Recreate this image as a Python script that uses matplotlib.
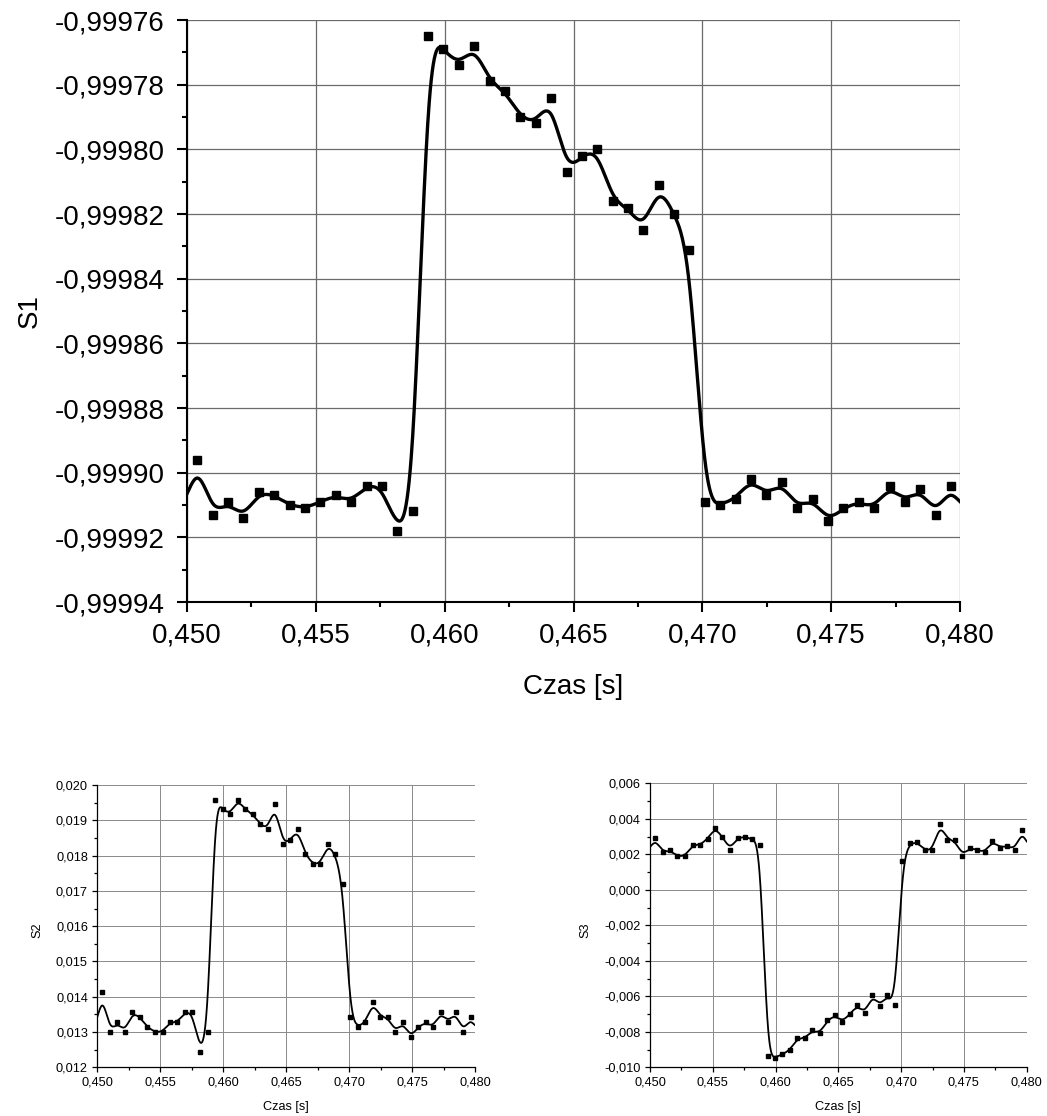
import numpy as np
import matplotlib
matplotlib.use("Agg")
import matplotlib.pyplot as plt
from matplotlib.ticker import MultipleLocator, FuncFormatter

plt.rcParams['font.family'] = ['Liberation Sans', 'DejaVu Sans']

# ---------------- data ----------------
czas = [0.45040, 0.45100, 0.45159, 0.45219, 0.45279, 0.45339, 0.45398, 0.45458,
        0.45518, 0.45577, 0.45637, 0.45697, 0.45756, 0.45816, 0.45876, 0.45936,
        0.45995, 0.46055, 0.46115, 0.46174, 0.46234, 0.46294, 0.46353, 0.46413,
        0.46473, 0.46533, 0.46592, 0.46652, 0.46712, 0.46771, 0.46831, 0.46891,
        0.46950, 0.47010, 0.47070, 0.47130, 0.47189, 0.47249, 0.47309, 0.47368,
        0.47428, 0.47488, 0.47547, 0.47607, 0.47667, 0.47727, 0.47786, 0.47846,
        0.47906, 0.47965]

s1 = [-0.999896, -0.999913, -0.999909, -0.999914, -0.999906, -0.999907, -0.999910,
      -0.999911, -0.999909, -0.999907, -0.999909, -0.999904, -0.999904, -0.999918,
      -0.999912, -0.999765, -0.999769, -0.999774, -0.999768, -0.999779, -0.999782,
      -0.999790, -0.999792, -0.999784, -0.999807, -0.999802, -0.999800, -0.999816,
      -0.999818, -0.999825, -0.999811, -0.999820, -0.999831, -0.999909, -0.999910,
      -0.999908, -0.999902, -0.999907, -0.999903, -0.999911, -0.999908, -0.999915,
      -0.999911, -0.999909, -0.999911, -0.999904, -0.999909, -0.999905, -0.999913,
      -0.999904]

s2 = [0.014127, 0.013000, 0.013277, 0.013000, 0.013560, 0.013418, 0.013135, 0.013000,
      0.013000, 0.013277, 0.013277, 0.013560, 0.013560, 0.012427, 0.013000, 0.019585,
      0.019311, 0.019169, 0.019585, 0.019311, 0.019169, 0.018886, 0.018744, 0.019452,
      0.018329, 0.018433, 0.018744, 0.018036, 0.017762, 0.017762, 0.018319, 0.018036,
      0.017186, 0.013418, 0.013135, 0.013277, 0.013843, 0.013418, 0.013418, 0.013000,
      0.013277, 0.012852, 0.013135, 0.013277, 0.013135, 0.013560, 0.013277, 0.013560,
      0.013000, 0.013418]

s3 = [0.002901, 0.002113, 0.002225, 0.001887, 0.001887, 0.002526, 0.002526, 0.002864,
      0.003502, 0.002976, 0.002263, 0.002939, 0.002976, 0.002864, 0.002526, -0.009343,
      -0.009456, -0.009268, -0.009024, -0.008367, -0.008367, -0.007916, -0.008085,
      -0.007353, -0.007071, -0.007428, -0.006996, -0.006507, -0.006958, -0.005925,
      -0.006545, -0.005925, -0.006489, 0.001605, 0.002638, 0.002675, 0.002225,
      0.002225, 0.003728, 0.002826, 0.002788, 0.001925, 0.002375, 0.002244, 0.002113,
      0.002751, 0.002375, 0.002488, 0.002263, 0.003352]

x_ticks = [0.450, 0.455, 0.460, 0.465, 0.470, 0.475, 0.480]


# ---------------- uniform cubic B-spline through data as control points ----------
def bspline(x, y, per_seg=30):
    x = np.asarray(x, float)
    y = np.asarray(y, float)
    # reflective padding (two phantom points on each side)
    xp = np.concatenate([[2 * x[0] - x[2], 2 * x[0] - x[1]], x,
                         [2 * x[-1] - x[-2], 2 * x[-1] - x[-3]]])
    yp = np.concatenate([[y[2], y[1]], y, [y[-2], y[-3]]])
    u = np.linspace(0, 1, per_seg, endpoint=False)
    b0 = (1 - u) ** 3 / 6
    b1 = (3 * u ** 3 - 6 * u ** 2 + 4) / 6
    b2 = (-3 * u ** 3 + 3 * u ** 2 + 3 * u + 1) / 6
    b3 = u ** 3 / 6
    xs, ys = [], []
    for i in range(1, len(xp) - 2):
        xs.append(b0 * xp[i - 1] + b1 * xp[i] + b2 * xp[i + 1] + b3 * xp[i + 2])
        ys.append(b0 * yp[i - 1] + b1 * yp[i] + b2 * yp[i + 1] + b3 * yp[i + 2])
    return np.concatenate(xs), np.concatenate(ys)


fig = plt.figure(figsize=(10.47, 11.16), dpi=100)
W, H = 1047.0, 1116.0


def rect(l, t, r, b):
    return [l / W, 1 - b / H, (r - l) / W, (b - t) / H]


def comma(fmt):
    return FuncFormatter(lambda v, p: (fmt % v).replace('.', ','))


def style(ax, fs, major_len, minor_len, spine_w, grid_c, grid_w, xpad, ypad):
    for s in ['top', 'right']:
        ax.spines[s].set_visible(False)
    for s in ['left', 'bottom']:
        ax.spines[s].set_linewidth(spine_w)
    ax.tick_params(which='major', direction='out', length=major_len, width=spine_w,
                   labelsize=fs)
    ax.tick_params(axis='x', which='major', pad=xpad)
    ax.tick_params(axis='y', which='major', pad=ypad)
    ax.tick_params(which='minor', direction='out', length=minor_len, width=spine_w)
    ax.grid(True, which='major', color=grid_c, linewidth=grid_w)
    ax.set_axisbelow(True)


def draw(ax, y, lw, ms):
    bx, by = bspline(czas, y)
    ax.plot(bx, by, color='black', lw=lw, zorder=3, clip_on=True)
    ax.plot(czas, y, 's', color='black', ms=ms, zorder=4)


# ---------------- top plot S1 ----------------
ax1 = fig.add_axes(rect(187, 20, 960, 602))
draw(ax1, s1, 2.4, 5.2)
ax1.set_xlim(0.450, 0.480)
ax1.set_ylim(-0.99994, -0.99976)
ax1.set_xticks(x_ticks)
ax1.xaxis.set_minor_locator(MultipleLocator(0.0025))
ax1.yaxis.set_major_locator(MultipleLocator(0.00002))
ax1.yaxis.set_minor_locator(MultipleLocator(0.00001))
ax1.xaxis.set_major_formatter(comma('%.3f'))
ax1.yaxis.set_major_formatter(comma('%.5f'))
style(ax1, 20, 7, 3.8, 1.5, '#6a6a6a', 0.9, 7.5, 9)
fig.text(30 / W, 1 - 311 / H, 'S1', rotation=90, ha='center', va='center', fontsize=20)
fig.text(573 / W, 1 - 687 / H, 'Czas [s]', ha='center', va='center', fontsize=20)

# ---------------- bottom-left S2 ----------------
ax2 = fig.add_axes(rect(97.3, 785, 475, 1067.3))
draw(ax2, s2, 1.3, 2.3)
ax2.set_xlim(0.450, 0.480)
ax2.set_ylim(0.012, 0.020)
ax2.set_xticks(x_ticks)
ax2.xaxis.set_minor_locator(MultipleLocator(0.0025))
ax2.yaxis.set_major_locator(MultipleLocator(0.001))
ax2.yaxis.set_minor_locator(MultipleLocator(0.0005))
ax2.xaxis.set_major_formatter(comma('%.3f'))
ax2.yaxis.set_major_formatter(comma('%.3f'))
style(ax2, 9.2, 3.5, 2, 0.9, '#8a8a8a', 0.7, 3.2, 3.2)
fig.text(37 / W, 1 - 930 / H, 'S2', rotation=90, ha='center', va='center', fontsize=9.2)
fig.text(286 / W, 1 - 1107 / H, 'Czas [s]', ha='center', va='center', fontsize=9.2)

# ---------------- bottom-right S3 ----------------
ax3 = fig.add_axes(rect(650, 783.3, 1026.7, 1067.3))
draw(ax3, s3, 1.3, 2.3)
ax3.set_xlim(0.450, 0.480)
ax3.set_ylim(-0.010, 0.006)
ax3.set_xticks(x_ticks)
ax3.xaxis.set_minor_locator(MultipleLocator(0.0025))
ax3.yaxis.set_major_locator(MultipleLocator(0.002))
ax3.yaxis.set_minor_locator(MultipleLocator(0.001))
ax3.xaxis.set_major_formatter(comma('%.3f'))
ax3.yaxis.set_major_formatter(comma('%.3f'))
style(ax3, 9.2, 3.5, 2, 0.9, '#8a8a8a', 0.7, 3.2, 3.2)
fig.text(585 / W, 1 - 930 / H, 'S3', rotation=90, ha='center', va='center', fontsize=9.2)
fig.text(838 / W, 1 - 1107 / H, 'Czas [s]', ha='center', va='center', fontsize=9.2)

fig.savefig('out.png', dpi=100)
